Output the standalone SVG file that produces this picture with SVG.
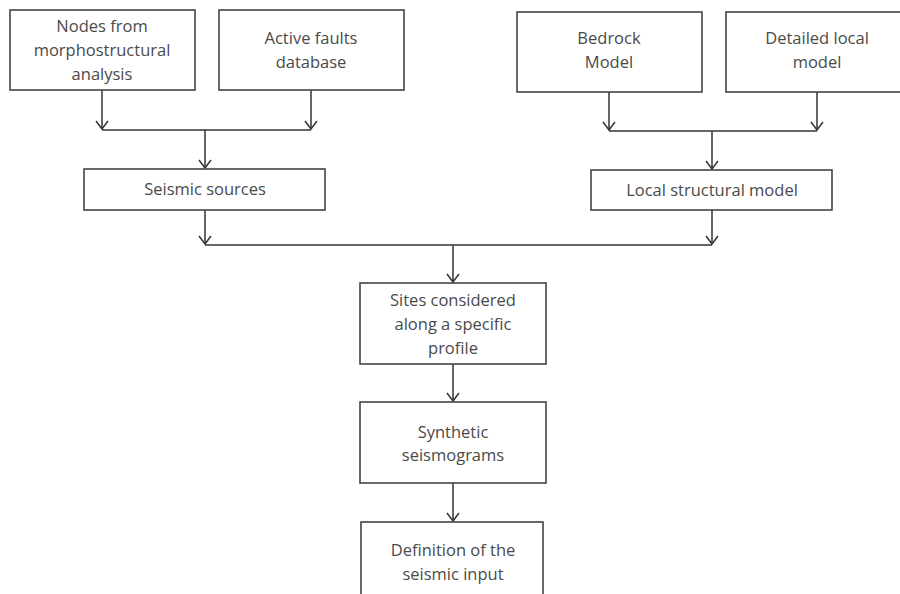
<svg xmlns="http://www.w3.org/2000/svg" width="900" height="594" viewBox="0 0 900 594">
<defs>
<style>
.box{fill:#fff;stroke:#444;stroke-width:1.6}
.t{font-family:"Open Sans","Noto Sans",sans-serif;font-size:16.5px;fill:#4a4a4a;text-anchor:middle}
.c{fill:none;stroke:#333;stroke-width:1.5}
</style>
<marker id="ah" markerWidth="12" markerHeight="14" viewBox="0 0 12 14" refX="10" refY="7" orient="auto" markerUnits="userSpaceOnUse">
<path d="M2,1 L10,7 L2,13" fill="none" stroke="#333" stroke-width="1.5"/>
</marker>
</defs>
<rect width="900" height="594" fill="#fff"/>
<g id="connectors">
<path class="c" d="M102,90 V129" marker-end="url(#ah)"/>
<path class="c" d="M311,90 V129" marker-end="url(#ah)"/>
<path class="c" d="M102,130 H311"/>
<path class="c" d="M205,130 V168" marker-end="url(#ah)"/>
<path class="c" d="M609,92 V130" marker-end="url(#ah)"/>
<path class="c" d="M817,92 V130" marker-end="url(#ah)"/>
<path class="c" d="M609,131 H817"/>
<path class="c" d="M712,131 V169" marker-end="url(#ah)"/>
<path class="c" d="M205,210 V244" marker-end="url(#ah)"/>
<path class="c" d="M712,210 V244" marker-end="url(#ah)"/>
<path class="c" d="M205,245 H712"/>
<path class="c" d="M453,245 V282" marker-end="url(#ah)"/>
<path class="c" d="M453,364 V401" marker-end="url(#ah)"/>
<path class="c" d="M453,483 V521" marker-end="url(#ah)"/>
</g>
<g id="n1"><rect class="box" x="10" y="10" width="185" height="80"/>
<text class="t" x="102" y="32">Nodes from</text><text class="t" x="102" y="56">morphostructural</text><text class="t" x="102" y="80">analysis</text></g>
<g id="n2"><rect class="box" x="219" y="10" width="185" height="80"/>
<text class="t" x="311" y="44">Active faults</text><text class="t" x="311" y="68">database</text></g>
<g id="n3"><rect class="box" x="517" y="12" width="185" height="80"/>
<text class="t" x="609" y="44">Bedrock</text><text class="t" x="609" y="68">Model</text></g>
<g id="n4"><rect class="box" x="726" y="12" width="185" height="80"/>
<text class="t" x="817" y="44">Detailed local</text><text class="t" x="817" y="68">model</text></g>
<g id="n5"><rect class="box" x="84" y="169" width="241" height="41"/>
<text class="t" x="205" y="195">Seismic sources</text></g>
<g id="n6"><rect class="box" x="591" y="170" width="241" height="40"/>
<text class="t" x="712" y="196">Local structural model</text></g>
<g id="n7"><rect class="box" x="360" y="283" width="186" height="81"/>
<text class="t" x="453" y="306">Sites considered</text><text class="t" x="453" y="330">along a specific</text><text class="t" x="453" y="354">profile</text></g>
<g id="n8"><rect class="box" x="360" y="402" width="186" height="81"/>
<text class="t" x="453" y="438">Synthetic</text><text class="t" x="453" y="461">seismograms</text></g>
<g id="n9"><rect class="box" x="361" y="522" width="182" height="90"/>
<text class="t" x="453" y="556">Definition of the</text><text class="t" x="453" y="580">seismic input</text></g>
</svg>
